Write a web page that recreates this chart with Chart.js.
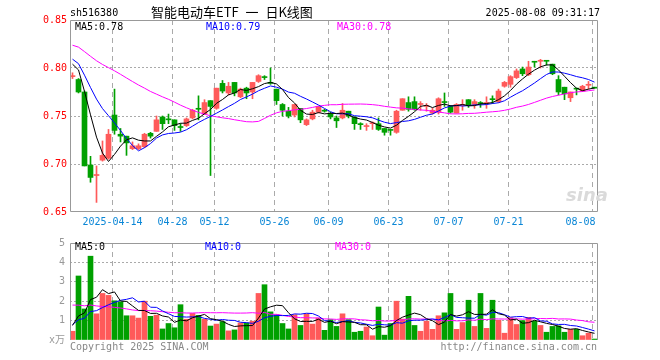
<!DOCTYPE html>
<html>
<head>
<meta charset="utf-8">
<script src="https://cdn.jsdelivr.net/npm/chart.js@4.4.1/dist/chart.umd.min.js"></script>
<style>
body { margin: 0; background: #fff; }
#box { position: relative; width: 660px; height: 360px; overflow: hidden; font-family: 'DejaVu Sans Mono', monospace; font-size: 10px; }
#box canvas { position: absolute; left: 0; }
.t { position: absolute; white-space: pre; line-height: 12px; }
</style>
</head>
<body>
<div id="box">
  <canvas id="kline" width="660" height="232" style="top:0"></canvas>
  <canvas id="vol" width="660" height="128" style="top:232px"></canvas>
  <div class="t" style="left:70px;top:7px">sh516380</div>
  <div class="t" style="left:151px;top:4px;font-family:'Noto Sans CJK SC';font-size:13px;line-height:16px;word-spacing:4px">智能电动车ETF 一 日K线图</div>
  <div class="t" style="right:60px;top:7px">2025-08-08 09:31:17</div>
  <div class="t" id="ma5txt" style="left:75px;top:21px;color:#000"></div>
  <div class="t" id="ma10txt" style="left:206px;top:21px;color:#0000ff"></div>
  <div class="t" id="ma30txt" style="left:337px;top:21px;color:#ff00ff"></div>
  <div class="t" style="left:566px;top:184px;font:italic bold 18px 'DejaVu Sans';color:#dadada">sina</div>
  <div class="t" style="left:75px;top:241px;color:#000">MA5:0</div>
  <div class="t" style="left:205px;top:241px;color:#0000ff">MA10:0</div>
  <div class="t" style="left:335px;top:241px;color:#ff00ff">MA30:0</div>
  <div class="t" style="left:70px;top:341px;color:#888">Copyright 2025 SINA.COM</div>
  <div class="t" style="right:63px;top:341px;color:#888">http://finance.sina.com.cn</div>
</div>
<script>
// trading days shown
var dates = ['04-02','04-03','04-07','04-08','04-09','04-10','04-11','04-14','04-15','04-16','04-17','04-18','04-21','04-22','04-23','04-24','04-25','04-28','04-29','04-30',
  '05-06','05-07','05-08','05-09','05-12','05-13','05-14','05-15','05-16','05-19','05-20','05-21','05-22','05-23','05-26','05-27','05-28','05-29','05-30',
  '06-03','06-04','06-05','06-06','06-09','06-10','06-11','06-12','06-13','06-16','06-17','06-18','06-19','06-20','06-23','06-24','06-25','06-26','06-27','06-30',
  '07-01','07-02','07-03','07-04','07-07','07-08','07-09','07-10','07-11','07-14','07-15','07-16','07-17','07-18','07-21','07-22','07-23','07-24','07-25','07-28','07-29','07-30','07-31',
  '08-01','08-04','08-05','08-06','08-07','08-08'];

var opens = [0.791,0.788,0.775,0.699,0.688,0.704,0.706,0.751,0.731,0.729,0.716,0.716,0.718,0.732,0.734,0.749,0.747,0.746,0.739,0.740,
  0.748,0.758,0.752,0.766,0.758,0.784,0.774,0.785,0.770,0.779,0.775,0.786,0.791,0.785,0.778,0.762,0.755,0.751,0.758,
  0.741,0.747,0.754,0.756,0.752,0.748,0.748,0.755,0.749,0.742,0.739,0.742,0.742,0.737,0.736,0.733,0.756,0.764,0.765,0.762,
  0.760,0.753,0.754,0.765,0.760,0.753,0.761,0.767,0.762,0.764,0.763,0.768,0.765,0.781,0.783,0.790,0.799,0.793,0.807,0.807,0.808,0.804,0.788,
  0.780,0.769,0.779,0.776,0.782,0.780];
var highs = [0.795,0.789,0.776,0.708,0.698,0.724,0.736,0.778,0.737,0.729,0.723,0.721,0.732,0.733,0.750,0.750,0.752,0.746,0.742,0.748,
  0.757,0.771,0.767,0.766,0.779,0.787,0.785,0.785,0.779,0.780,0.785,0.793,0.792,0.800,0.778,0.763,0.759,0.762,0.758,
  0.747,0.756,0.760,0.757,0.754,0.750,0.763,0.755,0.749,0.743,0.742,0.744,0.748,0.737,0.736,0.756,0.768,0.770,0.770,0.765,
  0.763,0.758,0.769,0.774,0.761,0.763,0.767,0.767,0.767,0.765,0.770,0.771,0.778,0.786,0.792,0.799,0.801,0.807,0.807,0.809,0.808,0.804,0.792,
  0.780,0.775,0.779,0.782,0.786,0.780];
var lows = [0.789,0.774,0.698,0.681,0.660,0.703,0.705,0.731,0.723,0.709,0.715,0.715,0.717,0.727,0.734,0.736,0.742,0.735,0.734,0.739,
  0.747,0.746,0.752,0.688,0.757,0.774,0.772,0.771,0.769,0.768,0.768,0.785,0.788,0.783,0.762,0.750,0.748,0.749,0.743,
  0.740,0.746,0.753,0.754,0.747,0.738,0.747,0.748,0.736,0.736,0.735,0.736,0.735,0.730,0.730,0.732,0.756,0.755,0.756,0.756,
  0.755,0.752,0.752,0.760,0.753,0.753,0.756,0.759,0.758,0.759,0.758,0.763,0.764,0.780,0.780,0.789,0.792,0.792,0.801,0.800,0.803,0.793,0.772,
  0.767,0.765,0.772,0.776,0.778,0.779];
var closes = [0.792,0.775,0.698,0.686,0.689,0.709,0.731,0.735,0.729,0.722,0.719,0.719,0.731,0.729,0.746,0.742,0.746,0.740,0.738,0.747,
  0.756,0.757,0.764,0.760,0.779,0.776,0.781,0.774,0.778,0.774,0.785,0.792,0.790,0.784,0.766,0.756,0.750,0.762,0.746,
  0.746,0.754,0.760,0.755,0.749,0.745,0.756,0.750,0.742,0.741,0.740,0.743,0.736,0.733,0.735,0.755,0.768,0.757,0.757,0.763,
  0.761,0.756,0.768,0.764,0.754,0.762,0.762,0.761,0.765,0.763,0.764,0.767,0.776,0.785,0.791,0.797,0.794,0.801,0.806,0.808,0.807,0.794,0.775,
  0.773,0.775,0.778,0.781,0.783,0.779];
var volumes = [0.45,3.3,1.6,4.32,1.35,2.4,2.3,2.02,1.97,1.25,1.25,1.13,2.0,1.22,1.28,0.57,0.85,0.63,1.82,1.07,
  1.37,1.27,1.07,0.72,0.82,0.95,0.47,0.52,0.88,0.88,0.97,2.4,2.85,1.45,1.3,0.85,0.57,1.3,0.75,
  1.35,0.82,1.13,0.5,1.05,0.7,1.35,1.05,0.4,0.45,0.67,0.22,1.7,0.25,0.85,2.0,1.08,2.25,0.75,0.45,
  0.97,0.55,1.25,1.4,2.4,0.55,0.9,2.05,0.7,2.4,0.6,2.05,1.02,0.35,1.15,0.8,1.0,1.17,0.97,0.75,0.4,0.7,0.73,
  0.4,0.55,0.55,0.22,0.35,0.05];

// days before 04-02 (not drawn), estimated from where the MA lines start
var prevCloses = [0.835,0.838,0.832,0.828,0.826,0.830,0.834,0.838,0.836,0.831,0.827,0.829,0.833,0.830,0.826,
  0.824,0.828,0.832,0.829,0.834,0.822,0.818,0.814,0.810,0.808,0.805,0.810,0.808,0.805];
var prevVolumes = [3.4,2.6,3.1,2.8,3.3,2.7,2.9,3.0,2.6,2.9,2.1,1.8,1.6,1.9,1.5,1.7,1.4,1.8,1.5,1.4,
  0.9,0.8,0.85,0.9,0.8,0.85,0.8,0.9,0.75];

var tickDates = ['04-14','04-28','05-12','05-26','06-09','06-23','07-07','07-21','08-08'];
var tickLabels = ['2025-04-14','04-28','05-12','05-26','06-09','06-23','07-07','07-21','08-08    '];

var RED = '#ff5a5a', GREEN = '#00a000', GRID = '#aaaaaa';
var MONO = "'DejaVu Sans Mono', 'Noto Sans CJK SC', monospace";

function movingAvg(prev, vals, n) {
  var all = prev.concat(vals);
  return vals.map(function (v, i) {
    var end = prev.length + i, s = 0;
    for (var k = end - n + 1; k <= end; k++) s += all[k];
    return s / n;
  });
}
function pts(arr) { return arr.map(function (v, i) { return { x: i, y: v }; }); }

var up = closes.map(function (c, i) { return c >= opens[i]; });
var colors = up.map(function (u) { return u ? RED : GREEN; });

var ma5 = movingAvg(prevCloses, closes, 5);
var ma10 = movingAvg(prevCloses, closes, 10);
var ma30 = movingAvg(prevCloses, closes, 30);
var vma5 = movingAvg(prevVolumes, volumes, 5);
var vma10 = movingAvg(prevVolumes, volumes, 10);
var vma30 = movingAvg(prevVolumes, volumes, 30);

document.getElementById('ma5txt').textContent = 'MA5:' + ma5[ma5.length - 1].toFixed(2);
document.getElementById('ma10txt').textContent = 'MA10:' + ma10[ma10.length - 1].toFixed(2);
document.getElementById('ma30txt').textContent = 'MA30:' + ma30[ma30.length - 1].toFixed(2);

var tickIdx = tickDates.map(function (d) { return dates.indexOf(d); });
var xMin = -2.5 / 6, xMax = xMin + 88;

var frame = {
  id: 'frame',
  afterDatasetsDraw: function (chart, args, opts) {
    var ctx = chart.ctx, a = chart.chartArea;
    var l = a.left + 0.5, r = a.right - 0.5, t = a.top + 0.5, b = a.bottom - 0.5;
    ctx.save();
    ctx.strokeStyle = '#999';
    ctx.lineWidth = 1;
    ctx.beginPath();
    if (opts.bottom) {
      ctx.rect(l, t, r - l, b - t);
    } else {
      ctx.moveTo(l, a.bottom); ctx.lineTo(l, t); ctx.lineTo(r, t); ctx.lineTo(r, a.bottom);
    }
    ctx.stroke();
    ctx.restore();
  }
};

function xScale(showLabels) {
  return {
    type: 'linear', min: xMin, max: xMax, offset: false,
    afterBuildTicks: function (s) { s.ticks = tickIdx.map(function (i) { return { value: i - 1 / 3 }; }); },
    afterFit: function (s) { s.height = 20; },
    grid: { color: GRID, lineWidth: 1, drawTicks: false, offset: false },
    border: { display: false, dash: [5, 4] },
    ticks: {
      display: showLabels, autoSkip: false, maxRotation: 0, padding: 4,
      color: '#0a86d6', font: { family: MONO, size: 10 },
      callback: function (v, idx) { return tickLabels[idx]; }
    }
  };
}

function line(data, color) {
  return { type: 'line', data: pts(data), borderColor: color, borderWidth: 1, pointRadius: 0, tension: 0, fill: false, order: 0 };
}

var common = {
  animation: false, responsive: false, devicePixelRatio: 1, events: [],
  plugins: { legend: { display: false }, tooltip: { enabled: false } }
};

new Chart(document.getElementById('kline'), {
  type: 'bar',
  data: {
    datasets: [
      line(ma5, '#000000'), line(ma10, '#0000ff'), line(ma30, '#ff00ff'),
      { data: opens.map(function (o, i) { return { x: i, y: [o, closes[i]] }; }),
        backgroundColor: colors, barThickness: 5, minBarLength: 1, grouped: false, order: 1 },
      { data: lows.map(function (l, i) { return { x: i, y: [l, highs[i]] }; }),
        backgroundColor: colors, barThickness: 1, grouped: false, order: 2 }
    ]
  },
  options: Object.assign({}, common, {
    layout: { padding: { top: 20, right: 62, left: 0, bottom: 0 } },
    plugins: Object.assign({}, common.plugins, { frame: { bottom: true } }),
    scales: {
      x: xScale(true),
      y: {
        min: 0.65, max: 0.85,
        afterFit: function (s) { s.width = 70; },
        grid: { color: function (c) { return (c.index === 0 || c.index === 4) ? 'rgba(0,0,0,0)' : GRID; }, drawTicks: false },
        border: { display: false, dash: [2, 2] },
        ticks: { stepSize: 0.05, padding: 3, color: '#ff0000', font: { family: MONO, size: 10 },
          callback: function (v) { return v.toFixed(2); } }
      }
    }
  }),
  plugins: [frame]
});

new Chart(document.getElementById('vol'), {
  type: 'bar',
  data: {
    datasets: [
      line(vma5, '#000000'), line(vma10, '#0000ff'), line(vma30, '#ff00ff'),
      { data: pts(volumes), backgroundColor: colors, barThickness: 5, grouped: false, order: 1 }
    ]
  },
  options: Object.assign({}, common, {
    layout: { padding: { top: 8, right: 62, left: 0, bottom: 0 } },
    plugins: Object.assign({}, common.plugins, { frame: { bottom: false } }),
    scales: {
      x: xScale(false),
      y: {
        min: 0, max: 5,
        afterFit: function (s) { s.width = 70; },
        grid: { color: function (c) { return (c.index === 0 || c.index === 5) ? 'rgba(0,0,0,0)' : GRID; }, drawTicks: false },
        border: { display: false, dash: [2, 2] },
        ticks: { stepSize: 1, padding: 5, color: '#999', font: { family: MONO, size: 10 },
          callback: function (v) { return v === 0 ? 'x万' : String(v); } }
      }
    }
  }),
  plugins: [frame]
});
</script>
</body>
</html>
